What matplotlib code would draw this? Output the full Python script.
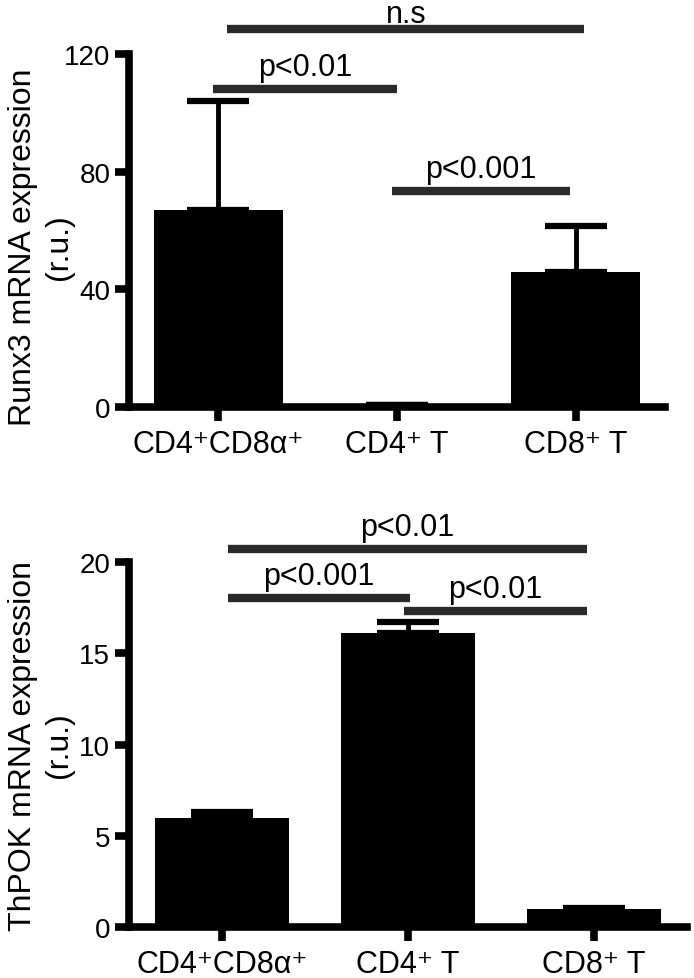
import matplotlib
matplotlib.use("Agg")
import matplotlib.pyplot as plt

plt.rcParams["font.family"] = ["Liberation Sans", "DejaVu Sans"]

CATEGORIES = ["CD4\u207aCD8\u03b1\u207a", "CD4\u207a T", "CD8\u207a T"]

RUNX3_MEAN = [67.0, 0.8, 46.0]
RUNX3_ERR = [37.0, 0.0, 15.5]
RUNX3_SIG = [  # (x0, x1, y, label)
    (0.05, 2.05, 128.6, "n.s"),
    (-0.03, 1.0, 108.2, "p<0.01"),
    (0.97, 1.97, 73.5, "p<0.001"),
]

THPOK_MEAN = [6.0, 16.1, 0.98]
THPOK_ERR = [0.3, 0.6, 0.07]
THPOK_SIG = [
    (0.03, 1.96, 20.74, "p<0.01"),
    (0.03, 1.01, 18.03, "p<0.001"),
    (0.98, 1.96, 17.33, "p<0.01"),
]

SPINE_W = 5.5
SIG_COLOR = "#2a2a2a"


def draw_panel(ax, means, errs, sigs, ymax, yticks, ylabel, text_off, label_xy):
    x = list(range(len(means)))
    ax.bar(x, means, width=0.72, color="black", zorder=2)
    ax.errorbar(x, means, yerr=[[0] * len(errs), errs], fmt="none",
                ecolor="black", elinewidth=3.5, capsize=22, capthick=4.5, zorder=1)
    for x0, x1, y, label in sigs:
        ax.plot([x0, x1], [y, y], color=SIG_COLOR, lw=6, solid_capstyle="butt",
                clip_on=False)
        off = text_off * 0.5 if label == "n.s" else text_off
        ax.text((x0 + x1) / 2, y + off, label, ha="center", va="baseline",
                fontsize=22, clip_on=False)

    ax.set_xlim(-0.5, 2.5)
    ax.set_ylim(0, ymax)
    ax.set_yticks(yticks)
    ax.set_xticks(x)
    ax.set_xticklabels(CATEGORIES)
    for side in ["top", "right"]:
        ax.spines[side].set_visible(False)
    for side in ["left", "bottom"]:
        ax.spines[side].set_linewidth(SPINE_W)
    ax.tick_params(axis="y", length=10, width=SPINE_W, labelsize=20, pad=3.5)
    ax.tick_params(axis="x", length=10, width=SPINE_W, labelsize=22, pad=6)
    ax.set_ylabel(ylabel, fontsize=23, linespacing=1.25)
    ax.yaxis.set_label_coords(*label_xy)


fig = plt.figure(figsize=(6.94, 9.79), dpi=100)
ax1 = fig.add_axes([0.186, 0.5832, 0.772, 0.3606])
ax2 = fig.add_axes([0.186, 0.0521, 0.804, 0.3728])

draw_panel(ax1, RUNX3_MEAN, RUNX3_ERR, RUNX3_SIG, 120, [0, 40, 80, 120],
           "Runx3 mRNA expression\n(r.u.)", 4.8, (-0.103, 0.456))
draw_panel(ax2, THPOK_MEAN, THPOK_ERR, THPOK_SIG, 20, [0, 5, 10, 15, 20],
           "ThPOK mRNA expression\n(r.u.)", 0.75, (-0.099, 0.5))

fig.savefig("out.png", dpi=100)
